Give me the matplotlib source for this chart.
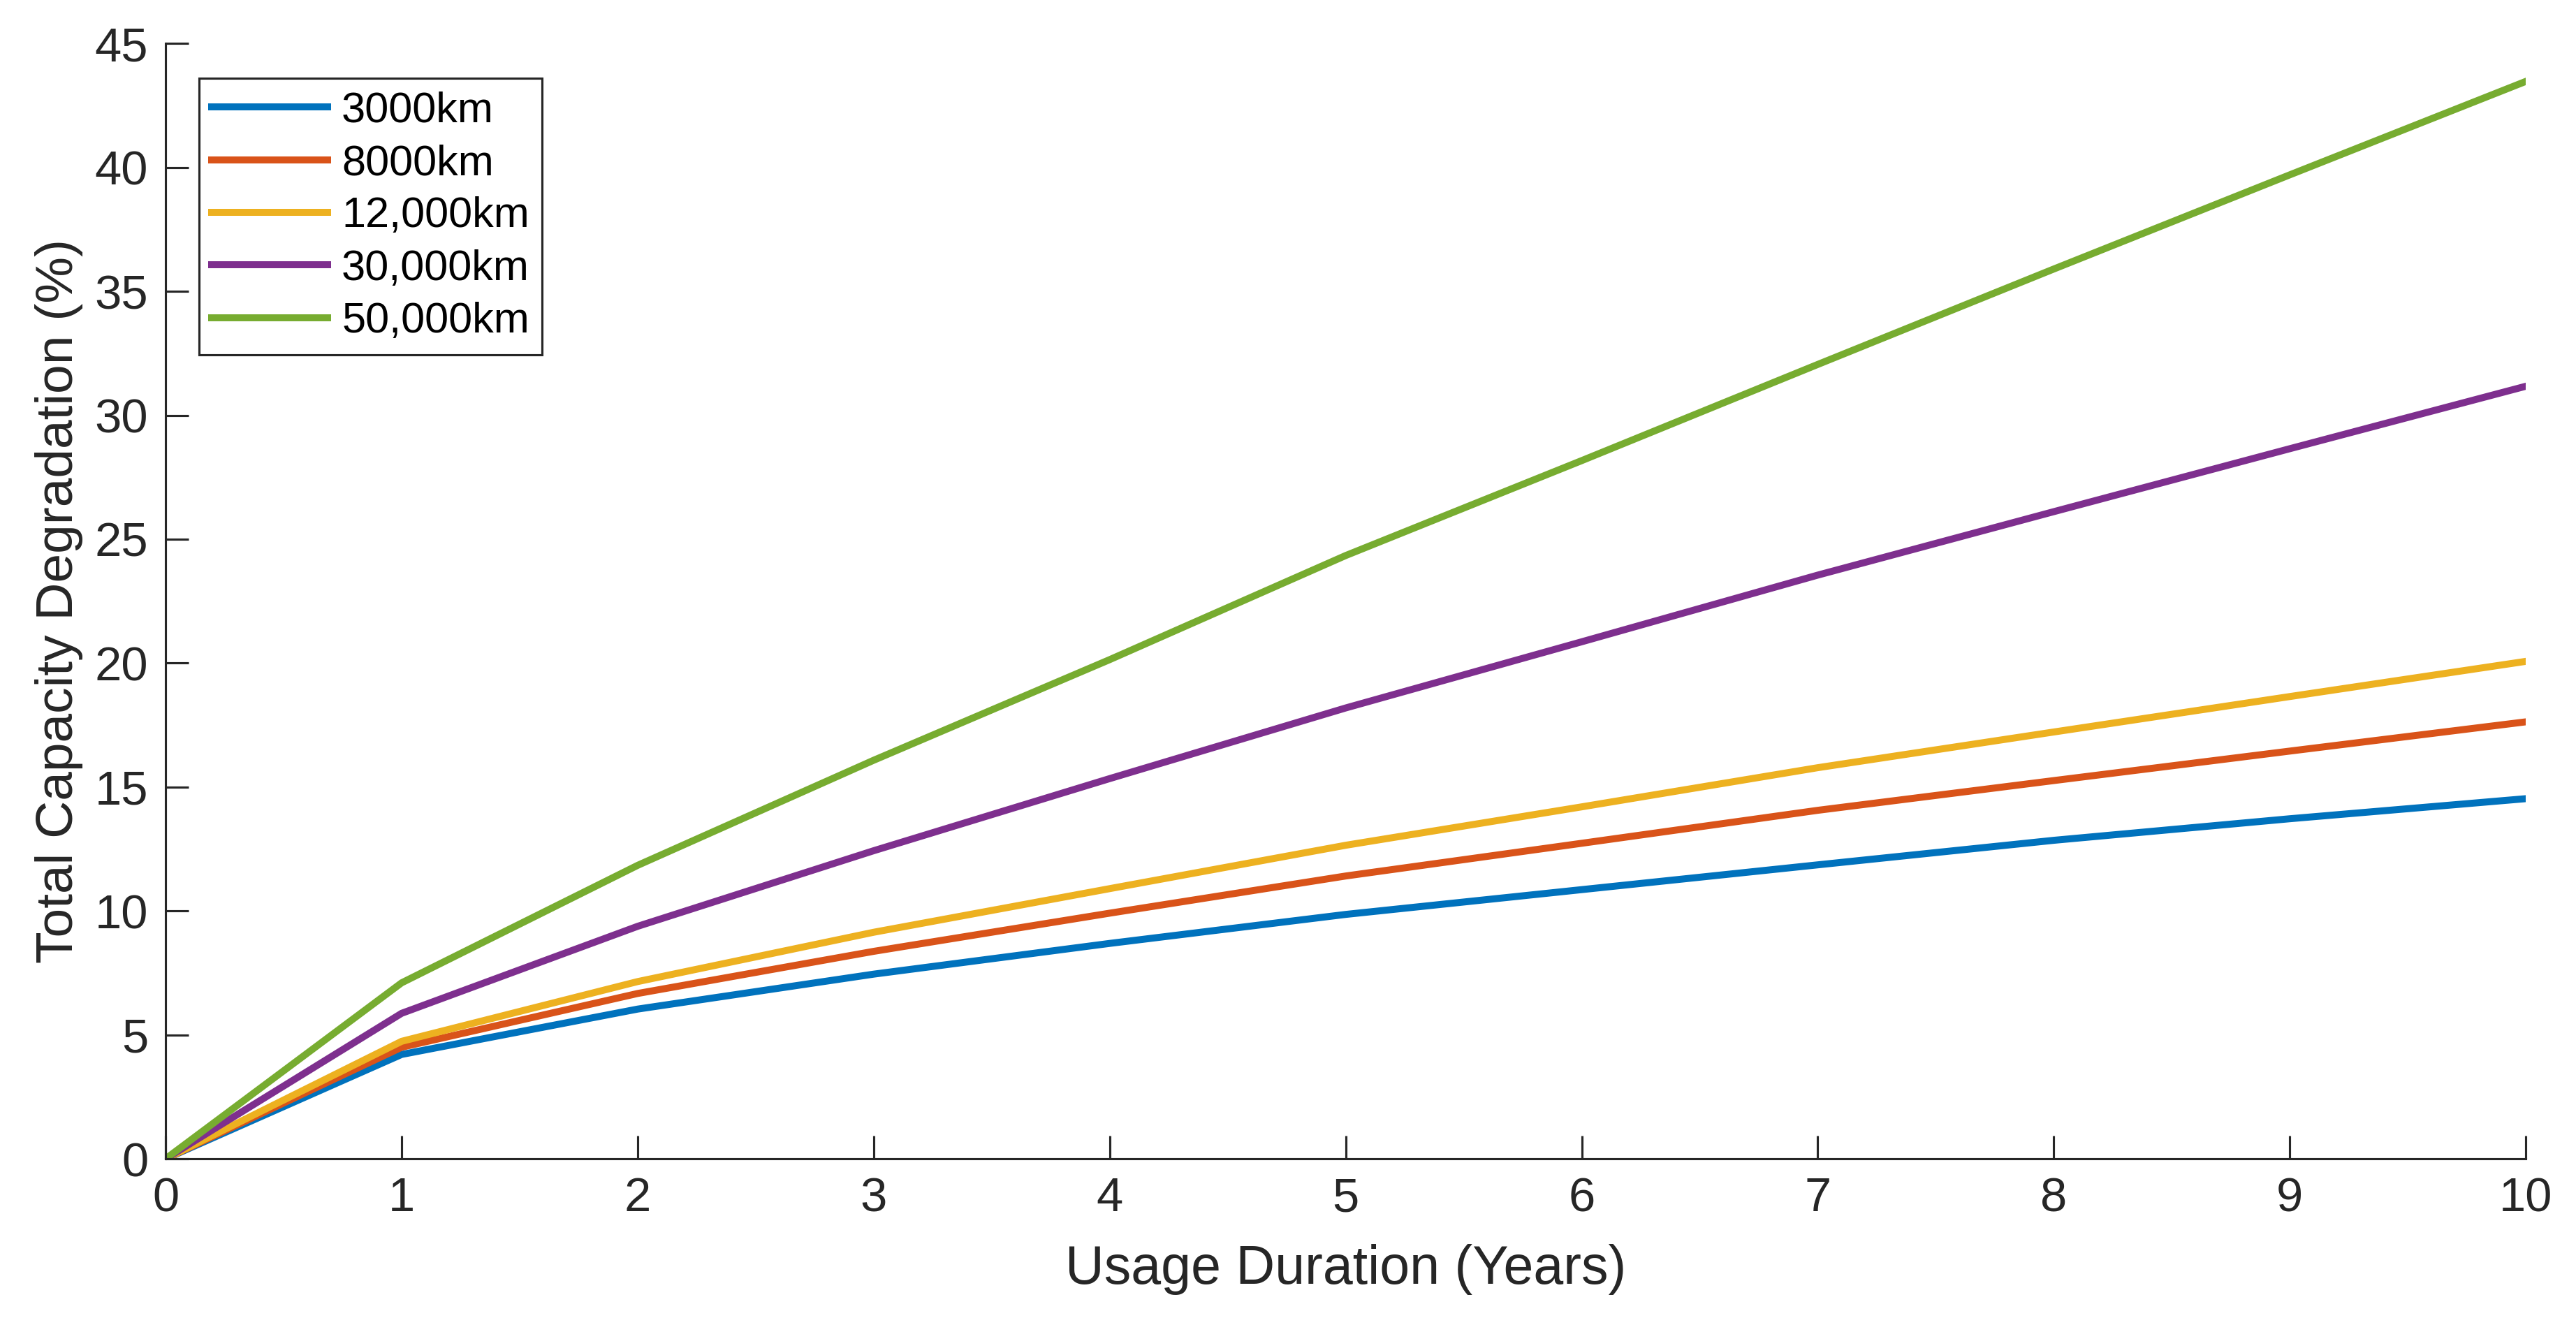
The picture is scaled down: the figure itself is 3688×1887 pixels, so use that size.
import numpy as np
import matplotlib.pyplot as plt

plt.rcParams['font.family'] = ['Liberation Sans', 'DejaVu Sans']

# Capacity degradation (%) by usage year
years = [0, 1, 2, 3, 4, 5, 6, 7, 8, 9, 10]
deg_3000 = [0, 4.21, 6.04, 7.45, 8.69, 9.86, 10.86, 11.86, 12.85, 13.72, 14.53]
deg_8000 = [0, 4.50, 6.67, 8.37, 9.91, 11.41, 12.73, 14.06, 15.26, 16.45, 17.63]
deg_12000 = [0, 4.74, 7.15, 9.14, 10.90, 12.65, 14.20, 15.78, 17.22, 18.65, 20.07]
deg_30000 = [0, 5.87, 9.38, 12.43, 15.34, 18.19, 20.86, 23.55, 26.11, 28.65, 31.17]
deg_50000 = [0, 7.10, 11.84, 16.08, 20.14, 24.34, 28.17, 32.05, 35.90, 39.70, 43.47]

labels = ['3000km', '8000km', '12,000km', '30,000km', '50,000km']
series = [deg_3000, deg_8000, deg_12000, deg_30000, deg_50000]
colors = ['#0072BD', '#D95319', '#EDB120', '#7E2F8E', '#77AC30']

axis_col = '#262626'

fig = plt.figure(figsize=(3688 / 300, 1887 / 300), dpi=300)
ax = fig.add_axes([0.0643, 0.1208, 0.9162, 0.8462])

for vals, lab, col in zip(series, labels, colors):
    ax.plot(years, vals, color=col, linewidth=2.4, label=lab, solid_joinstyle='miter')

ax.set_xlim(0, 10)
ax.set_ylim(0, 45)
ax.set_xticks(range(0, 11))
ax.set_yticks(range(0, 46, 5))

for side in ['top', 'right']:
    ax.spines[side].set_visible(False)
for side in ['left', 'bottom']:
    ax.spines[side].set_color(axis_col)
    ax.spines[side].set_linewidth(0.75)

ax.tick_params(direction='in', length=8, width=0.75, color=axis_col,
               labelcolor=axis_col, labelsize=16.5, pad=6)

ax.set_xlabel('Usage Duration (Years)', fontsize=18.5, color=axis_col, labelpad=8)
ax.set_ylabel('Total Capacity Degradation (%)', fontsize=18, color=axis_col, labelpad=4)

leg = ax.legend(loc='upper left', bbox_to_anchor=(0.0142, 0.9687), borderaxespad=0,
                fontsize=14.7, handlelength=2.7, handletextpad=0.33, labelspacing=0.3,
                fancybox=False, framealpha=1, edgecolor=axis_col, borderpad=0.3)
leg.get_frame().set_linewidth(0.75)

fig.savefig('out.png', dpi=300, facecolor='white')
